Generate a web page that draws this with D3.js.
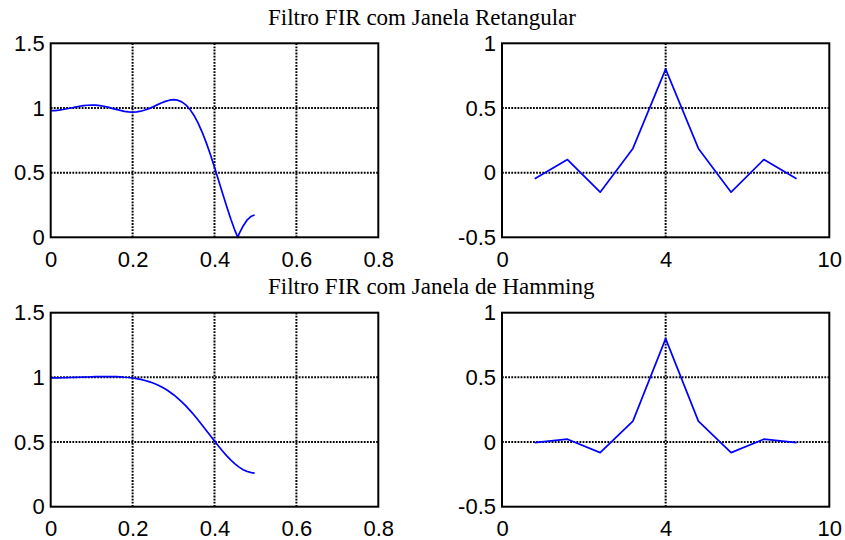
<!DOCTYPE html>
<html>
<head>
<meta charset="utf-8">
<script src="https://cdn.jsdelivr.net/npm/d3@7"></script>
<style>
  html, body { margin: 0; padding: 0; background: #fff; }
  svg { display: block; }
</style>
</head>
<body>
<script>
// Magnitude response, rectangular window (normalized frequency, |H|)
const freqRect = [0, 0.01, 0.02, 0.03, 0.04, 0.05, 0.06, 0.07, 0.08, 0.09,
  0.10, 0.11, 0.12, 0.13, 0.14, 0.15, 0.16, 0.17, 0.18, 0.19,
  0.20, 0.21, 0.22, 0.23, 0.24, 0.25, 0.26, 0.27, 0.28, 0.29,
  0.30, 0.31, 0.32, 0.33, 0.34, 0.35, 0.36, 0.37, 0.38, 0.39,
  0.40, 0.41, 0.42, 0.43, 0.44, 0.45, 0.457, 0.46, 0.47, 0.48, 0.49, 0.498];
const magRect = [0.979, 0.980, 0.983, 0.988, 0.994, 1.000, 1.007, 1.013, 1.018, 1.021,
  1.023, 1.022, 1.018, 1.013, 1.006, 0.997, 0.989, 0.981, 0.974, 0.970,
  0.968, 0.970, 0.975, 0.984, 0.995, 1.009, 1.024, 1.039, 1.051, 1.060,
  1.064, 1.060, 1.047, 1.024, 0.989, 0.942, 0.883, 0.812, 0.730, 0.640,
  0.542, 0.440, 0.337, 0.236, 0.139, 0.051, 0.000, 0.026, 0.088, 0.135, 0.163, 0.172];

// Magnitude response, Hamming window
const freqHamming = [0, 0.01, 0.02, 0.03, 0.04, 0.05, 0.06, 0.07, 0.08, 0.09,
  0.10, 0.11, 0.12, 0.13, 0.14, 0.15, 0.16, 0.17, 0.18, 0.19,
  0.20, 0.21, 0.22, 0.23, 0.24, 0.25, 0.26, 0.27, 0.28, 0.29,
  0.30, 0.31, 0.32, 0.33, 0.34, 0.35, 0.36, 0.37, 0.38, 0.39,
  0.40, 0.41, 0.42, 0.43, 0.44, 0.45, 0.46, 0.47, 0.48, 0.49, 0.498];
const magHamming = [0.996, 0.996, 0.996, 0.997, 0.998, 0.999, 1.000, 1.001, 1.002, 1.003,
  1.004, 1.005, 1.006, 1.006, 1.006, 1.006, 1.005, 1.004, 1.001, 0.999,
  0.995, 0.990, 0.984, 0.976, 0.967, 0.956, 0.943, 0.928, 0.910, 0.889,
  0.866, 0.840, 0.811, 0.779, 0.745, 0.709, 0.670, 0.630, 0.589, 0.548,
  0.507, 0.467, 0.429, 0.393, 0.360, 0.331, 0.306, 0.286, 0.272, 0.263, 0.260];

// Impulse responses (9 coefficients)
const sampleIdx = [1, 2, 3, 4, 5, 6, 7, 8, 9];
const hRect = [-0.047, 0.101, -0.151, 0.187, 0.8, 0.187, -0.151, 0.101, -0.047];
const hHamming = [-0.004, 0.022, -0.082, 0.162, 0.8, 0.162, -0.082, 0.022, -0.004];

// Tick values and labels
const freqTicks = [0, 0.2, 0.4, 0.6, 0.8];
const freqTickLabels = ["0", "0.2", "0.4", "0.6", "0.8"];
const magTicks = [0, 0.5, 1, 1.5];
const magTickLabels = ["0", "0.5", "1", "1.5"];
const idxTicks = [0, 5, 10];
const idxTickLabels = ["0", "4", "10"];
const impTicks = [-0.5, 0, 0.5, 1];
const impTickLabels = ["-0.5", "0", "0.5", "1"];

const titles = ["Filtro FIR com Janela Retangular", "Filtro FIR com Janela de Hamming"];

const W = 845, H = 540;
const svg = d3.select("body").append("svg")
  .attr("width", W).attr("height", H)
  .style("background", "#fff");

const colLeft = [50.7, 378.3], colRight = [502, 829.3];
const rowTop = [237.3, 43.3], rowBottom = [506.7, 312.7];

function panel(cfg) {
  const x = d3.scaleLinear().domain(cfg.xDomain).range(cfg.xRange);
  const y = d3.scaleLinear().domain(cfg.yDomain).range(cfg.yRange);
  const g = svg.append("g");

  // dotted grid
  const grid = g.append("g")
    .attr("stroke", "#000").attr("stroke-width", 2)
    .attr("stroke-dasharray", "1.8,1.3").attr("fill", "none");
  cfg.xGrid.forEach(v => grid.append("line")
    .attr("x1", x(v)).attr("x2", x(v))
    .attr("y1", cfg.yRange[0]).attr("y2", cfg.yRange[1]));
  cfg.yGrid.forEach(v => grid.append("line")
    .attr("x1", cfg.xRange[0]).attr("x2", cfg.xRange[1])
    .attr("y1", y(v)).attr("y2", y(v)));

  // data line
  const pts = cfg.xs.map((d, i) => [d, cfg.ys[i]]);
  g.append("path")
    .datum(pts)
    .attr("fill", "none")
    .attr("stroke", "#0000ff")
    .attr("stroke-width", 1.7)
    .attr("stroke-linejoin", "round")
    .attr("d", d3.line().x(d => x(d[0])).y(d => y(d[1])));

  // axes box
  g.append("rect")
    .attr("x", cfg.xRange[0]).attr("y", cfg.yRange[1])
    .attr("width", cfg.xRange[1] - cfg.xRange[0])
    .attr("height", cfg.yRange[0] - cfg.yRange[1])
    .attr("fill", "none").attr("stroke", "#000").attr("stroke-width", 2);

  // tick labels via d3 axes
  const xAxis = d3.axisBottom(x)
    .tickValues(cfg.xTicks)
    .tickFormat((d, i) => cfg.xLabels[i])
    .tickSize(0).tickPadding(14);
  const ax = g.append("g")
    .attr("transform", `translate(0,${cfg.yRange[0]})`)
    .call(xAxis);
  ax.select(".domain").remove();

  const yAxis = d3.axisLeft(y)
    .tickValues(cfg.yTicks)
    .tickFormat((d, i) => cfg.yLabels[i])
    .tickSize(0).tickPadding(6);
  const ay = g.append("g")
    .attr("transform", `translate(${cfg.xRange[0]},0)`)
    .call(yAxis);
  ay.select(".domain").remove();

  g.selectAll(".tick text")
    .attr("fill", "#000")
    .style("font-family", "'Liberation Sans', Arial, sans-serif")
    .style("font-size", "22px");
}

// Rectangular window: magnitude and impulse response
panel({ xDomain: [0, 0.8], xRange: colLeft, yDomain: [0, 1.5], yRange: rowTop,
  xs: freqRect, ys: magRect, xGrid: [0.2, 0.4, 0.6], yGrid: [0.5, 1],
  xTicks: freqTicks, xLabels: freqTickLabels, yTicks: magTicks, yLabels: magTickLabels });
panel({ xDomain: [0, 10], xRange: colRight, yDomain: [-0.5, 1], yRange: rowTop,
  xs: sampleIdx, ys: hRect, xGrid: [5], yGrid: [0, 0.5],
  xTicks: idxTicks, xLabels: idxTickLabels, yTicks: impTicks, yLabels: impTickLabels });

// Hamming window: magnitude and impulse response
panel({ xDomain: [0, 0.8], xRange: colLeft, yDomain: [0, 1.5], yRange: rowBottom,
  xs: freqHamming, ys: magHamming, xGrid: [0.2, 0.4, 0.6], yGrid: [0.5, 1],
  xTicks: freqTicks, xLabels: freqTickLabels, yTicks: magTicks, yLabels: magTickLabels });
panel({ xDomain: [0, 10], xRange: colRight, yDomain: [-0.5, 1], yRange: rowBottom,
  xs: sampleIdx, ys: hHamming, xGrid: [5], yGrid: [0, 0.5],
  xTicks: idxTicks, xLabels: idxTickLabels, yTicks: impTicks, yLabels: impTickLabels });

// titles
svg.selectAll("text.title")
  .data(titles)
  .join("text")
  .attr("class", "title")
  .attr("x", 268)
  .attr("y", (d, i) => i === 0 ? 25 : 294)
  .attr("fill", "#000")
  .style("font-family", "'Liberation Serif', 'Times New Roman', serif")
  .style("font-size", "23px")
  .text(d => d);
</script>
</body>
</html>
